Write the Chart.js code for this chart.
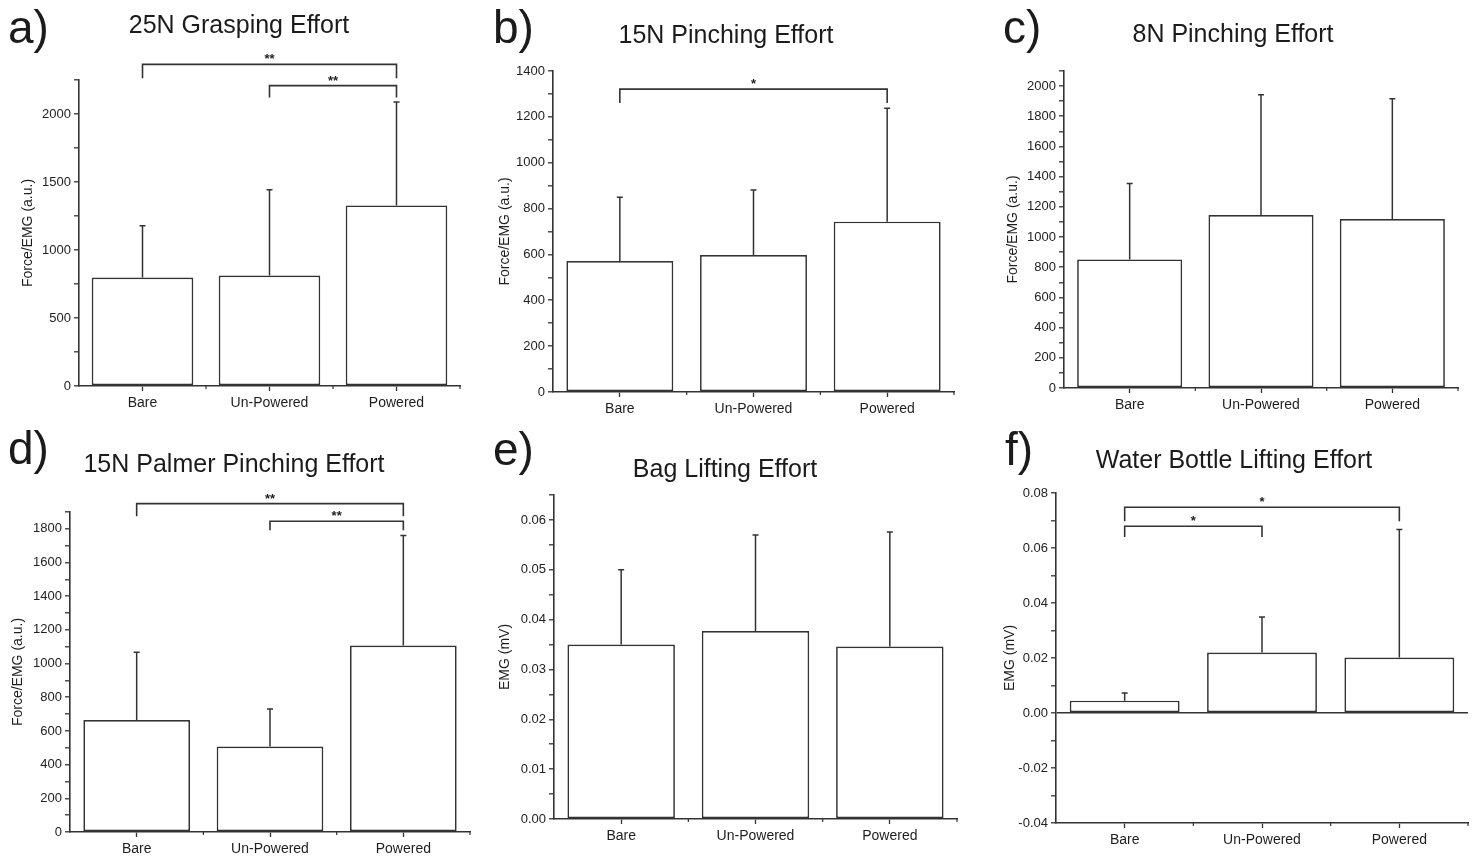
<!DOCTYPE html>
<html>
<head>
<meta charset="UTF-8">
<title>effort bars</title>
<script src="https://cdn.jsdelivr.net/npm/chart.js@4.4.0/dist/chart.umd.min.js"></script>
<style>
	body {margin:0; background:#fff;}
	#fig {position:relative; width:1480px; height:861px; overflow:hidden; font-family:'Liberation Sans', Arial, sans-serif; color:#1b1b1b;}
	#fig canvas {position:absolute;}
	.tag {position:absolute; font-size:46px; line-height:46px;}
	.ttl {position:absolute; font-size:25px; line-height:25px; white-space:nowrap; transform:translateX(-50%);}
</style>
</head>
<body>
<div id="fig">
	<canvas id="cA" width="470" height="420" style="left:0px;top:0px"></canvas>
	<canvas id="cB" width="474" height="426" style="left:490px;top:0px"></canvas>
	<canvas id="cC" width="475" height="422" style="left:995px;top:0px"></canvas>
	<canvas id="cD" width="480" height="431" style="left:0px;top:430px"></canvas>
	<canvas id="cE" width="477" height="431" style="left:490px;top:430px"></canvas>
	<canvas id="cF" width="480" height="431" style="left:995px;top:430px"></canvas>

	<div class="tag" style="left:8px;top:4px">a)</div>
	<div class="tag" style="left:493px;top:4px">b)</div>
	<div class="tag" style="left:1003px;top:4px">c)</div>
	<div class="tag" style="left:8px;top:425px">d)</div>
	<div class="tag" style="left:493px;top:426px">e)</div>
	<div class="tag" style="left:1005px;top:426px">f)</div>

	<div class="ttl" style="left:239px;top:12px">25N Grasping Effort</div>
	<div class="ttl" style="left:726px;top:22px">15N Pinching Effort</div>
	<div class="ttl" style="left:1233px;top:21px">8N Pinching Effort</div>
	<div class="ttl" style="left:234px;top:451px">15N Palmer Pinching Effort</div>
	<div class="ttl" style="left:725px;top:456px">Bag Lifting Effort</div>
	<div class="ttl" style="left:1234px;top:447px">Water Bottle Lifting Effort</div>
</div>
<script>
	const groups = ['Bare', 'Un-Powered', 'Powered'];

	// a) 25N grasping  (mean, +SD)
	const graspMean = [797, 812, 1328];
	const graspSd = [381, 631, 761];
	// [from, to, bracket level, leg end, stars]
	const graspSig = [[0, 2, 2365, 2262, '**'], [1, 2, 2209, 2121, '**']];

	// b) 15N pinching
	const pinch15Mean = [571, 597, 743];
	const pinch15Sd = [278, 284, 494];
	const pinch15Sig = [[0, 2, 1321, 1260, '*']];

	// c) 8N pinching
	const pinch8Mean = [852, 1146, 1119];
	const pinch8Sd = [502, 796, 797];
	const pinch8Sig = [];

	// d) 15N palmer pinching
	const palmerMean = [665, 508, 1107];
	const palmerSd = [402, 223, 653];
	const palmerSig = [[0, 2, 1950, 1875, '**'], [1, 2, 1845, 1792, '**']];

	// e) bag lifting (mV)
	const bagMean = [0.0350, 0.0377, 0.0346];
	const bagSd = [0.0150, 0.0193, 0.0230];
	const bagSig = [];

	// f) water bottle lifting (mV)
	const bottleMean = [0.0045, 0.0220, 0.0202];
	const bottleSd = [0.0028, 0.0129, 0.0465];
	const bottleSig = [[0, 2, 0.0748, 0.0697, '*'], [0, 1, 0.0679, 0.0640, '*']];

	// y axes: [min, max, minor step, labelled step, decimals]
	const graspAxis = [0, 2250, 250, 500, 0];
	const pinch15Axis = [0, 1400, 100, 200, 0];
	const pinch8Axis = [0, 2100, 100, 200, 0];
	const palmerAxis = [0, 1900, 100, 200, 0];
	const bagAxis = [0, 0.065, 0.005, 0.01, 2];
	const bottleAxis = [-0.04, 0.08, 0.01, 0.02, 2];

	const ink = '#333';

	// error bars, x minor ticks and significance brackets
	function marksFor(sd, sig) {
		return {
			id: 'marks',
			afterDatasetsDraw(chart) {
				const ctx = chart.ctx, xs = chart.scales.x, ys = chart.scales.y;
				const mean = chart.data.datasets[0].data;
				const bars = chart.getDatasetMeta(0).data;
				ctx.save();
				ctx.strokeStyle = ink;
				ctx.lineWidth = 1.5;
				bars.forEach((bar, i) => {
					const top = ys.getPixelForValue(mean[i] + sd[i]);
					ctx.beginPath();
					ctx.moveTo(bar.x, bar.y);
					ctx.lineTo(bar.x, top);
					ctx.moveTo(bar.x - 3, top);
					ctx.lineTo(bar.x + 3, top);
					ctx.stroke();
				});
				const bottom = chart.chartArea.bottom;
				ctx.lineWidth = 1.2;
				for (let i = 0; i < mean.length; i++) {
					const edge = (xs.getPixelForValue(i) + xs.getPixelForValue(i + 1)) / 2;
					ctx.beginPath();
					ctx.moveTo(edge, bottom);
					ctx.lineTo(edge, bottom + 3);
					ctx.stroke();
				}
				ctx.lineWidth = 1.6;
				ctx.fillStyle = '#222';
				ctx.font = 'bold 13px "Liberation Sans", Arial, sans-serif';
				ctx.textAlign = 'center';
				ctx.textBaseline = 'alphabetic';
				sig.forEach(s => {
					const x1 = xs.getPixelForValue(s[0]), x2 = xs.getPixelForValue(s[1]);
					const yl = ys.getPixelForValue(s[2]), yg = ys.getPixelForValue(s[3]);
					ctx.beginPath();
					ctx.moveTo(x1, yg);
					ctx.lineTo(x1, yl);
					ctx.lineTo(x2, yl);
					ctx.lineTo(x2, yg);
					ctx.stroke();
					ctx.fillText(s[4], (x1 + x2) / 2, yl - 1);
				});
				ctx.restore();
			}
		};
	}

	function makePanel(id, mean, sd, sig, axis, yTitle, g) {
		const [min, max, step, labelStep, dec] = axis;
		const zero = min < 0;
		return new Chart(document.getElementById(id), {
			type: 'bar',
			data: {
				labels: groups,
				datasets: [{
					data: mean,
					backgroundColor: '#fff',
					borderColor: ink,
					borderWidth: 1.7,
					borderSkipped: false,
					barPercentage: 0.8,
					categoryPercentage: 1.0
				}]
			},
			options: {
				responsive: false,
				animation: false,
				events: [],
				layout: {padding: {top: g.top, right: g.right, left: 0, bottom: 0}},
				plugins: {legend: {display: false}, tooltip: {enabled: false}},
				scales: {
					x: {
						grid: {drawOnChartArea: false, offset: false, tickLength: 5, tickColor: ink, tickWidth: 1.3},
						border: {display: true, color: ink, width: 1.6},
						ticks: {color: '#1e1e1e', font: {family: '"Liberation Sans", Arial, sans-serif', size: 14}, padding: 4, maxRotation: 0},
						afterFit: s => { s.height = g.xh; }
					},
					y: {
						min: min,
						max: max,
						ticks: {
							stepSize: step,
							maxTicksLimit: 100,
							autoSkip: false,
							color: '#222',
							padding: 3,
							font: {family: '"Liberation Sans", Arial, sans-serif', size: 13},
							callback: v => {
								const r = v / labelStep;
								if (Math.abs(r - Math.round(r)) > 1e-6) return '';
								return dec ? v.toFixed(dec) : String(Math.round(v));
							}
						},
						grid: {
							drawOnChartArea: zero,
							color: c => (zero && c.tick && Math.abs(c.tick.value) < 1e-9) ? ink : 'rgba(0,0,0,0)',
							lineWidth: 1.6,
							tickLength: 5,
							tickColor: ink,
							tickWidth: 1.3
						},
						border: {display: true, color: ink, width: 1.6},
						title: {
							display: true,
							text: yTitle,
							color: '#1e1e1e',
							font: {family: '"Liberation Sans", Arial, sans-serif', size: 14},
							padding: {top: g.tp, bottom: 0}
						},
						afterFit: s => { s.width = g.yw; }
					}
				}
			},
			plugins: [marksFor(sd, sig)]
		});
	}

	makePanel('cA', graspMean, graspSd, graspSig, graspAxis, 'Force/EMG (a.u.)', {top: 80, right: 10, yw: 79, xh: 34, tp: 20});
	makePanel('cB', pinch15Mean, pinch15Sd, pinch15Sig, pinch15Axis, 'Force/EMG (a.u.)', {top: 71, right: 10, yw: 63, xh: 34, tp: 6.6});
	makePanel('cC', pinch8Mean, pinch8Sd, pinch8Sig, pinch8Axis, 'Force/EMG (a.u.)', {top: 71, right: 12, yw: 69, xh: 34, tp: 9.6});
	makePanel('cD', palmerMean, palmerSd, palmerSig, palmerAxis, 'Force/EMG (a.u.)', {top: 82, right: 10, yw: 70, xh: 29, tp: 9.6});
	makePanel('cE', bagMean, bagSd, bagSig, bagAxis, 'EMG (mV)', {top: 65, right: 10, yw: 64, xh: 42, tp: 6.6});
	makePanel('cF', bottleMean, bottleSd, bottleSig, bottleAxis, 'EMG (mV)', {top: 63, right: 7, yw: 61, xh: 38, tp: 6.6});
</script>
</body>
</html>
